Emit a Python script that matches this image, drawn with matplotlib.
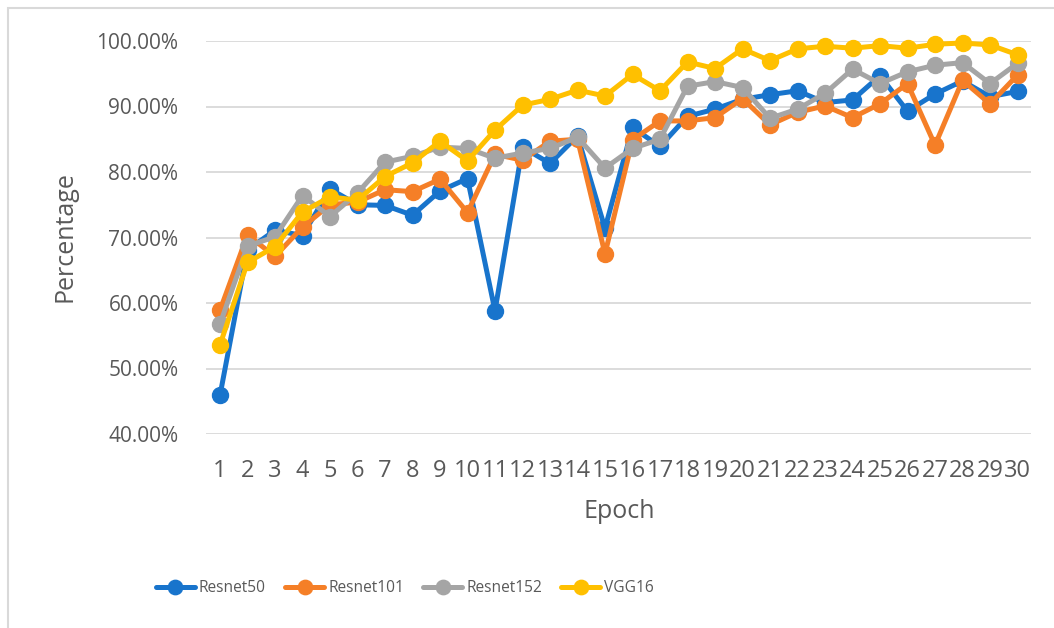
import matplotlib
matplotlib.use('Agg')
import matplotlib.pyplot as plt
from matplotlib.patches import Rectangle
from matplotlib.ticker import FuncFormatter

epochs = list(range(1, 31))
resnet50 = [45.9, 68.1, 71.1, 70.3, 77.4, 75.0, 74.9, 73.4, 77.1, 79.0,
            58.8, 83.8, 81.3, 85.5, 71.4, 86.8, 83.9, 88.5, 89.6, 91.1,
            91.8, 92.4, 90.6, 91.0, 94.7, 89.3, 91.9, 93.9, 91.5, 92.3]
resnet101 = [58.9, 70.4, 67.1, 71.6, 75.0, 75.4, 77.3, 77.0, 78.9, 73.8,
             82.7, 81.8, 84.7, 85.0, 67.5, 84.9, 87.8, 87.8, 88.3, 91.2,
             87.2, 89.1, 90.1, 88.3, 90.4, 93.5, 84.1, 94.0, 90.4, 94.8]
resnet152 = [56.8, 68.7, 70.1, 76.4, 73.2, 76.8, 81.5, 82.4, 83.8, 83.6,
             82.1, 82.9, 83.6, 85.3, 80.6, 83.6, 85.0, 93.1, 93.8, 92.9,
             88.2, 89.6, 92.0, 95.7, 93.5, 95.3, 96.3, 96.7, 93.5, 96.6]
vgg16 = [53.6, 66.2, 68.6, 73.9, 76.2, 75.7, 79.3, 81.4, 84.7, 81.7,
         86.4, 90.2, 91.1, 92.5, 91.6, 94.9, 92.4, 96.8, 95.8, 98.8,
         97.0, 98.8, 99.2, 98.9, 99.3, 98.9, 99.5, 99.7, 99.4, 97.9]

names = ['Resnet50', 'Resnet101', 'Resnet152', 'VGG16']
colors = ['#1874CC', '#F57F27', '#A5A5A5', '#FFC000']
text_col = '#595959'
grid_col = '#D9D9D9'

plt.rcParams['font.family'] = ['Open Sans', 'DejaVu Sans']

W, H = 1054, 628
fig = plt.figure(figsize=(W / 100, H / 100), dpi=100)
ax = fig.add_axes([206.25 / W, (H - 434) / H, 825 / W, 393 / H])

for vals, name, c in zip([resnet50, resnet101, resnet152, vgg16], names, colors):
    ax.plot(epochs, vals, color=c, lw=3.6, marker='o', ms=11.5,
            solid_capstyle='round', label=name, clip_on=False)

ax.set_xlim(0.5, 30.5)
ax.set_ylim(40, 100)
ax.set_yticks([40, 50, 60, 70, 80, 90, 100])
ax.yaxis.set_major_formatter(FuncFormatter(lambda v, p: f'{v:.2f}%'))
ax.set_xticks(epochs)
ax.set_xticklabels([str(e) for e in epochs])
ax.grid(axis='y', color=grid_col, lw=1.3)
ax.set_axisbelow(True)
for s in ax.spines.values():
    s.set_visible(False)
ax.tick_params(axis='y', length=0, pad=20, labelsize=15, labelcolor=text_col)
ax.tick_params(axis='x', length=0, pad=18, labelsize=17, labelcolor=text_col)

fig.text(65 / W, 1 - 237 / H, 'Percentage', rotation=90, ha='center', va='center',
         fontsize=18, color=text_col)
fig.text(619 / W, 1 - 512 / H, 'Epoch', ha='center', va='center',
         fontsize=18, color=text_col)

leg = fig.legend(loc='center', bbox_to_anchor=(405 / W, 1 - 588 / H), ncol=4,
                 frameon=False, fontsize=11.2, handlelength=2.5,
                 handletextpad=0.25, columnspacing=1.25, markerscale=0.9)
for t in leg.get_texts():
    t.set_color(text_col)

fig.add_artist(Rectangle((8 / W, -0.5), 2.0, 1 - 8 / H + 0.5, transform=fig.transFigure,
                         fill=False, edgecolor=grid_col, lw=1.5))

fig.savefig('out.png', dpi=100)
